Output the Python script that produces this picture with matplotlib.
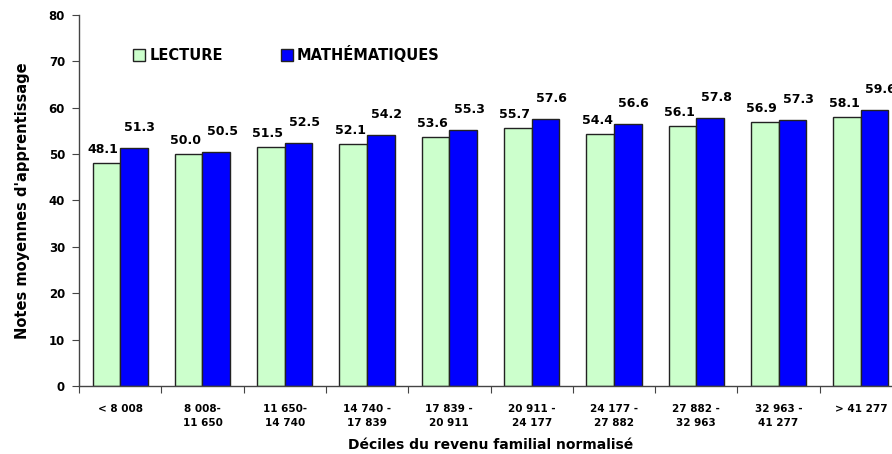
import matplotlib
matplotlib.use("Agg")
import matplotlib.pyplot as plt
import numpy as np
from matplotlib.patches import Patch

categories = ["< 8 008", "8 008-\n11 650", "11 650-\n14 740", "14 740 -\n17 839",
              "17 839 -\n20 911", "20 911 -\n24 177", "24 177 -\n27 882",
              "27 882 -\n32 963", "32 963 -\n41 277", "> 41 277"]
lecture = [48.1, 50.0, 51.5, 52.1, 53.6, 55.7, 54.4, 56.1, 56.9, 58.1]
maths = [51.3, 50.5, 52.5, 54.2, 55.3, 57.6, 56.6, 57.8, 57.3, 59.6]
series_names = ["LECTURE", "MATHÉMATIQUES"]
yticks = [0, 10, 20, 30, 40, 50, 60, 70, 80]

plt.rcParams['font.family'] = ['DejaVu Sans']
plt.rcParams['font.weight'] = 'bold'

fig = plt.figure(figsize=(8.92, 4.54), dpi=100)
ax = fig.add_axes([79/892, 68/454, (902-79)/892, (386-15)/454])

n = len(categories)
x = np.arange(n) + 0.5
w = 0.335
green = "#CCFFCC"
blue = "#0000FF"
ax.bar(x - w/2, lecture, w, color=green, edgecolor="#222222", linewidth=1.0)
ax.bar(x + w/2, maths, w, color=blue, edgecolor="#222222", linewidth=1.0)

for xi, v in zip(x, lecture):
    ax.annotate(f"{v:.1f}", (xi - w/2, v), xytext=(-3, 7), textcoords="offset pixels",
                ha="center", va="bottom", fontsize=9, fontweight="bold")
for xi, v in zip(x, maths):
    ax.annotate(f"{v:.1f}", (xi + w/2, v), xytext=(6, 14), textcoords="offset pixels",
                ha="center", va="bottom", fontsize=9, fontweight="bold")

ax.set_xlim(0, n)
ax.set_ylim(0, 80)
ax.set_yticks(yticks)
ax.set_yticklabels([str(t) for t in yticks], fontsize=8.5, fontweight="bold")
ax.set_xticks(np.arange(n + 1))
ax.set_xticklabels([])
ax.set_xticks(x, minor=True)
ax.set_xticklabels(categories, minor=True, fontsize=7.5, fontweight="bold", linespacing=1.55)
ax.tick_params(axis="x", which="minor", length=0, pad=13)
ax.tick_params(axis="x", which="major", length=5, direction="out", color="#444444")
ax.tick_params(axis="y", length=5, direction="out", color="#444444", pad=5)
for s in ["top", "right"]:
    ax.spines[s].set_visible(False)
for s in ["left", "bottom"]:
    ax.spines[s].set_color("#444444")
    ax.spines[s].set_linewidth(1.0)

ax.set_xlabel("Déciles du revenu familial normalisé", fontsize=10, fontweight="bold", labelpad=7)
ax.set_ylabel("Notes moyennes d'apprentissage", fontsize=10.5, fontweight="bold")
ax.yaxis.set_label_coords(-49/823, 0.5)

handles = [Patch(facecolor=green, edgecolor="#222222"), Patch(facecolor=blue, edgecolor="#222222")]
leg = fig.legend(handles, series_names, loc="upper left", bbox_to_anchor=(120/892, 1 - 33/454),
                 ncol=2, frameon=False, handlelength=0.8, handleheight=0.8, handletextpad=0.3,
                 columnspacing=4.0, prop={"size": 10.5, "weight": "bold"})

fig.savefig("out.png", dpi=100)
